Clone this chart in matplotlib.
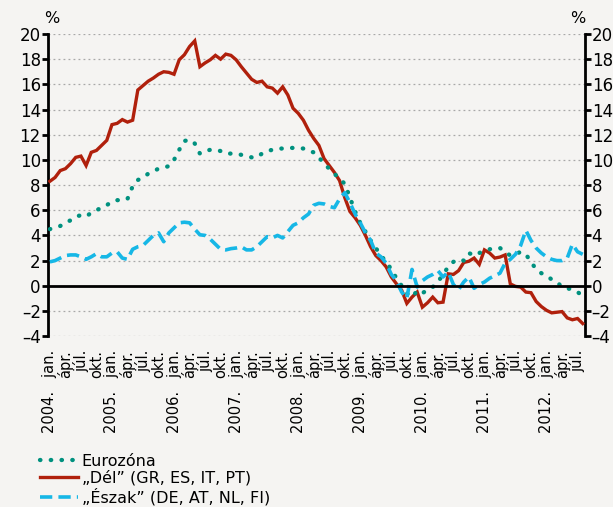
import matplotlib
matplotlib.use("Agg")
import matplotlib.pyplot as plt
import numpy as np

# monthly series, 2004 Jan .. 2012 Aug (percent)
euro = [4.5, 4.6, 4.75, 5.0, 5.2, 5.5, 5.6, 5.5, 5.8, 6.0, 6.2, 6.4,
        6.7, 6.8, 6.8, 6.9, 7.9, 8.4, 8.6, 8.9, 9.1, 9.3, 9.4, 9.5,
        10.0, 10.8, 11.5, 11.6, 11.3, 10.5, 10.7, 10.8, 10.8, 10.7, 10.5, 10.5,
        10.5, 10.4, 10.3, 10.2, 10.2, 10.5, 10.7, 10.8, 10.9, 10.9, 10.95, 10.95,
        10.95, 10.9, 10.7, 10.6, 10.2, 9.7, 9.3, 8.9, 8.5, 8.1, 7.0, 5.9,
        5.0, 4.3, 3.6, 3.0, 2.4, 1.9, 1.3, 0.6, 0.0, -0.6, -0.9, -0.4,
        -0.6, -0.3, -0.1, 0.3, 0.9, 1.5, 1.9, 2.1, 2.0, 2.6, 2.4, 2.6,
        2.8, 2.9, 3.0, 3.0, 2.7, 2.4, 2.5, 2.7, 2.5, 1.9, 1.3, 1.0,
        0.8, 0.5, 0.3, -0.1, -0.2, -0.3, -0.5, -0.8]

south = [8.3, 8.6, 9.15, 9.3, 9.7, 10.2, 10.3, 9.55, 10.6, 10.75, 11.15, 11.55,
         12.8, 12.9, 13.2, 13.0, 13.15, 15.55, 15.9, 16.25, 16.5, 16.8, 17.0, 16.95,
         16.8, 17.95, 18.35, 19.0, 19.45, 17.4, 17.7, 17.95, 18.3, 18.0, 18.4, 18.3,
         17.95, 17.4, 16.9, 16.4, 16.15, 16.25, 15.8, 15.7, 15.3, 15.8, 15.15, 14.1,
         13.7, 13.15, 12.35, 11.7, 11.15, 10.1, 9.55, 9.0, 8.35, 7.0, 5.9, 5.4,
         4.8, 4.0, 3.1, 2.4, 2.0, 1.5, 0.7, 0.15, -0.35, -1.4, -0.9, -0.5,
         -1.7, -1.35, -0.9, -1.35, -1.3, 0.95, 0.9, 1.2, 1.85, 1.95, 2.2, 1.7,
         2.85, 2.6, 2.2, 2.28, 2.45, 0.15, -0.05, -0.1, -0.5, -0.55, -1.25, -1.65,
         -1.95, -2.15, -2.1, -2.05, -2.55, -2.7, -2.6, -3.0]

north = [1.9, 2.0, 2.2, 2.4, 2.45, 2.45, 2.3, 2.1, 2.3, 2.55, 2.3, 2.3,
         2.6, 2.7, 2.2, 2.1, 2.9, 3.1, 3.2, 3.6, 4.0, 4.2, 3.5, 4.2,
         4.6, 5.0, 5.05, 5.0, 4.5, 4.05, 4.0, 3.7, 3.3, 2.9, 2.85, 2.95,
         3.0, 3.1, 2.85, 2.85, 3.1, 3.5, 3.9, 3.8, 4.0, 3.8, 4.3, 4.8,
         5.0, 5.4, 5.7, 6.4, 6.55, 6.5, 6.3, 6.2, 6.9, 7.4, 6.6, 5.7,
         5.0, 4.2, 3.6, 2.6, 2.3, 1.8, 0.9, 0.4, -0.5, -1.0, 1.3, -0.1,
         0.4, 0.7, 0.9, 1.2, 0.7, 1.1, 0.1, -0.3, 0.3, 0.7, -0.2, 0.1,
         0.3, 0.6, 0.8, 1.0, 1.8, 2.1, 2.5, 3.2, 4.4, 3.6, 3.0, 2.6,
         2.3, 2.1, 2.0, 2.0, 2.2, 3.3, 2.7, 2.5]

years = list(range(2004, 2013))
months = ["jan.", "ápr.", "júl.", "okt."]
yticks = list(range(-4, 21, 2))
labels = ["Eurozóna", "\u201eDél\u201d (GR, ES, IT, PT)", "\u201eÉszak\u201d (DE, AT, NL, FI)"]

bg = "#f5f4f2"
red = "#b0200c"
teal = "#00917f"
blue = "#16b7e6"

x = np.arange(len(south))

fig = plt.figure(figsize=(6.13, 5.07), dpi=100, facecolor=bg)
ax = fig.add_axes([0.078, 0.337, 0.876, 0.596], facecolor=bg)

l2, = ax.plot(x, south, color=red, lw=2.4, solid_joinstyle="miter", zorder=3)
l1, = ax.plot(x, euro, color=teal, lw=3.1, linestyle=(0, (0.1, 2.4)),
              dash_capstyle="round", zorder=4)
l3, = ax.plot(x, north, color=blue, lw=2.6, linestyle=(0, (3.4, 1.7)), zorder=5)

ax.set_xlim(-0.4, 103.4)
ax.set_ylim(-4, 20)
ax.set_yticks(yticks)
ax.set_yticklabels([str(v).replace("-", "\u2013") for v in yticks])
ax.grid(axis="y", color="#a8a8a8", linestyle=(0, (1.5, 2.5)), lw=0.9)
ax.axhline(0, color="black", lw=2, zorder=6)

for s in ["top", "bottom"]:
    ax.spines[s].set_visible(False)
for s in ["left", "right"]:
    ax.spines[s].set_linewidth(2)

ax.tick_params(axis="y", which="both", left=True, right=True, labelleft=True,
               labelright=True, direction="out", length=4, width=2,
               labelsize=12, pad=1)

ticks = list(range(0, 103, 3))
ticklabels = []
for t in ticks:
    m = months[(t % 12) // 3]
    if t % 12 == 0:
        ticklabels.append(f"{years[t // 12]}.   {m}")
    else:
        ticklabels.append(m)
ax.set_xticks(ticks)
ax.set_xticklabels(ticklabels, rotation=90, fontsize=10.5, va="top", ha="center")
ax.tick_params(axis="x", length=0, pad=10)

fig.text(0.085, 0.955, "%", fontsize=11.5, ha="center")
fig.text(0.943, 0.955, "%", fontsize=11.5, ha="center")

fig.legend([l1, l2, l3], labels, loc="upper left", bbox_to_anchor=(0.055, 0.118),
           frameon=False, fontsize=11.5, handlelength=2.4, handletextpad=0.2,
           labelspacing=0.12, borderaxespad=0)

fig.savefig("out.png", dpi=100, facecolor=bg)
